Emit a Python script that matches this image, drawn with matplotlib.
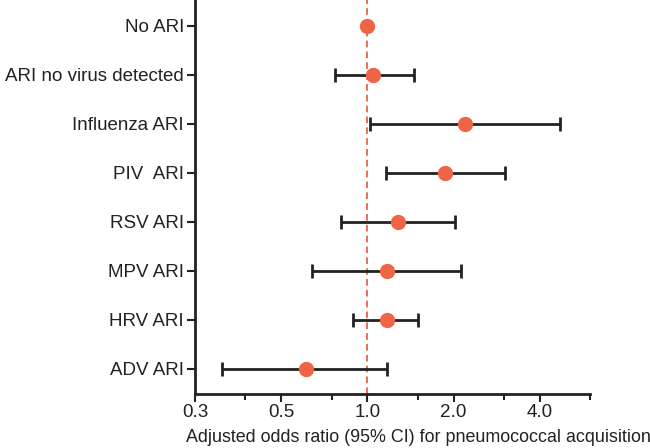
import matplotlib
matplotlib.use("Agg")
import matplotlib.pyplot as plt
from matplotlib.ticker import FixedLocator, NullFormatter

plt.rcParams['font.family'] = ['Liberation Sans', 'DejaVu Sans']

# data, top to bottom
groups = ["No ARI", "ARI no virus detected", "Influenza ARI", "PIV  ARI",
          "RSV ARI", "MPV ARI", "HRV ARI", "ADV ARI"]
odds = [1.0, 1.05, 2.19, 1.87, 1.28, 1.17, 1.17, 0.61]
ci_low = [1.0, 0.77, 1.02, 1.16, 0.81, 0.64, 0.89, 0.31]
ci_high = [1.0, 1.45, 4.70, 3.02, 2.02, 2.13, 1.50, 1.17]

major_ticks = [0.25, 0.5, 1.0, 2.0, 4.0]
major_labels = ["0.3", "0.5", "1.0", "2.0", "4.0"]
minor_ticks = [0.375, 0.75, 1.5, 3.0, 6.0]

dark = "#222222"
dot = "#EE6546"

fig = plt.figure(figsize=(6.5, 4.48), dpi=100)
ax = fig.add_axes([0.3, 0.1205, 0.608, 0.8795])

ypos = list(range(len(groups)))[::-1]
lo_err = [o - l for o, l in zip(odds, ci_low)]
hi_err = [h - o for o, h in zip(odds, ci_high)]

ax.axvline(1.0, color="#E8573C", lw=1.2, ls=(0, (4, 2.5)), zorder=1)
ax.errorbar(odds, ypos, xerr=[lo_err, hi_err], fmt="none", ecolor=dark,
            elinewidth=2, capsize=5, capthick=2, zorder=2)
ax.plot(odds, ypos, "o", color=dot, ms=10, mec=dot, zorder=3)

ax.set_xscale("log", base=2)
ax.set_xlim(0.25, 6.0)
ax.set_ylim(-0.52, 7.53)
ax.xaxis.set_major_locator(FixedLocator(major_ticks))
ax.set_xticklabels(major_labels)
ax.xaxis.set_minor_locator(FixedLocator(minor_ticks))
ax.xaxis.set_minor_formatter(NullFormatter())
ax.set_yticks(ypos)
ax.set_yticklabels(groups)

for s in ["top", "right"]:
    ax.spines[s].set_visible(False)
for s in ["left", "bottom"]:
    ax.spines[s].set_linewidth(2)
    ax.spines[s].set_color(dark)

ax.tick_params(axis="x", which="major", length=6, width=1.5, color=dark,
               labelsize=13.6, labelcolor=dark, pad=1)
ax.tick_params(axis="x", which="minor", length=4, width=1.5, color=dark)
ax.tick_params(axis="y", length=6, width=1.5, color=dark,
               labelsize=13.5, labelcolor=dark, pad=2)

ax.set_xlabel("Adjusted odds ratio (95% CI) for pneumococcal acquisition",
              fontsize=12.9, color=dark, ha="left")
ax.xaxis.set_label_coords(-0.022, -0.088)

fig.savefig("out.png", dpi=100)
